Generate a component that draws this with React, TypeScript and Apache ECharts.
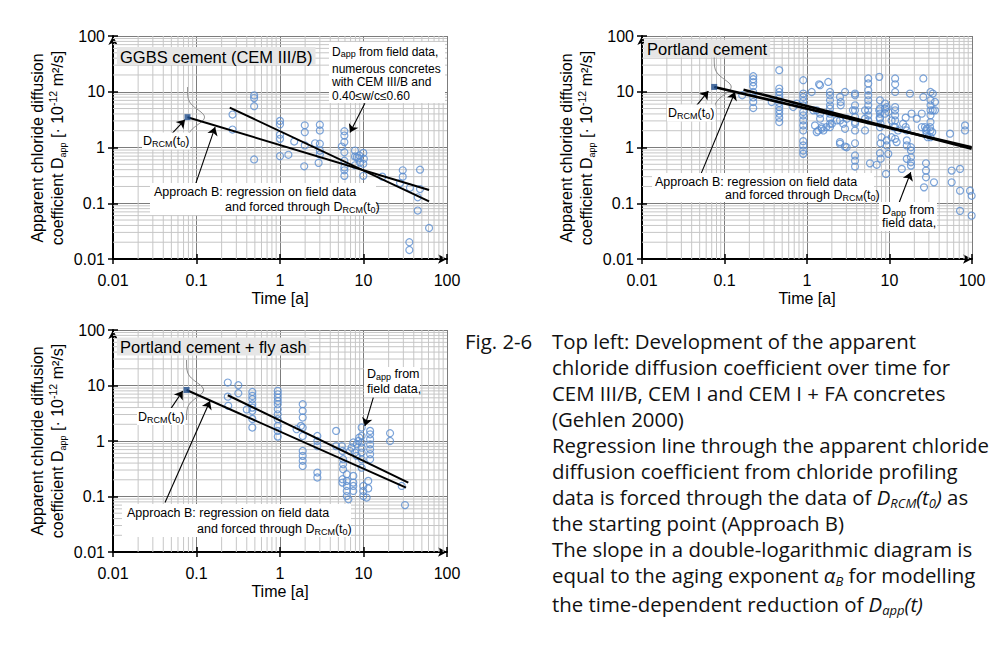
import React, { useEffect, useRef } from 'react';
import * as echarts from 'echarts';

const F = '"Liberation Sans", Arial, Helvetica, sans-serif';
const CAP_F = '"Open Sans", Lato, sans-serif';

const tickLabels = ['0.01', '0.1', '1', '10', '100'];
const minorTicks = [
  0.02, 0.03, 0.04, 0.05, 0.06, 0.07, 0.08, 0.09,
  0.2, 0.3, 0.4, 0.5, 0.6, 0.7, 0.8, 0.9,
  2, 3, 4, 5, 6, 7, 8, 9,
  20, 30, 40, 50, 60, 70, 80, 90,
];

// ---------- Panel 1: GGBS cement (CEM III/B) ----------
const ggbsField: number[][] = [
  [0.27, 3.9], [0.27, 2.1], [0.49, 8.6], [0.49, 7.7], [0.49, 5.5], [0.49, 0.61],
  [1.0, 3.0], [1.0, 2.6], [1.0, 1.7], [1.0, 1.43], [1.0, 0.7],
  [1.26, 0.74], [1.48, 1.28], [1.98, 2.5], [1.98, 1.88], [1.98, 1.09], [1.95, 0.46],
  [2.63, 1.19], [3.0, 2.56], [3.0, 2.02], [3.0, 1.17], [3.0, 0.88], [3.0, 0.75], [2.9, 0.53],
  [5.9, 1.96], [5.9, 1.64], [5.9, 1.25], [5.5, 1.04], [5.9, 0.82], [5.9, 0.58], [5.9, 0.44], [5.9, 0.39], [5.9, 0.31],
  [7.9, 0.88], [7.9, 0.69], [7.9, 0.48], [8.3, 0.67], [8.7, 0.64], [8.9, 0.72], [9.1, 0.54], [9.95, 0.8], [10.1, 0.63],
  [9.95, 0.51], [9.95, 0.31],
  [16.8, 0.3], [29.5, 0.39], [29.5, 0.3], [27.4, 0.23], [36, 0.19], [47.5, 0.4], [47.5, 0.18],
  [44.6, 0.128], [44.6, 0.074], [61, 0.036], [35.4, 0.02], [35.4, 0.0145],
];
const ggbsRcm: number[][] = [[0.078, 3.5]];
const ggbsForced: number[][] = [[0.078, 3.5], [61, 0.173]];
const ggbsFit: number[][] = [[0.25, 5.2], [61, 0.108]];
const ggbsArrows: number[][][] = [
  [[10.4, 6.19], [6.89, 1.86]],
  [[0.0505, 1.76], [0.0728, 3.15]],
  [[0.096, 0.207], [0.167, 2.32]],
];

// ---------- Panel 2: Portland cement ----------
const pcField: number[][] = [
  [0.164, 8.65],
  [0.223, 19.0], [0.223, 16.8], [0.223, 14.8], [0.223, 12.6], [0.223, 9.9], [0.223, 7.9], [0.223, 6.55], [0.223, 5.1],
  [0.373, 6.55],
  [0.461, 24.4], [0.461, 11.4], [0.461, 9.9], [0.461, 8.65], [0.461, 7.54], [0.461, 6.28], [0.461, 5.32], [0.461, 4.64],
  [0.461, 4.05], [0.461, 3.43], [0.461, 2.86],
  [0.68, 5.32], [0.75, 6.13],
  [0.9, 16.1], [0.9, 9.28], [0.9, 8.06], [0.9, 6.83], [0.9, 5.71], [0.9, 4.33], [0.9, 3.77], [0.9, 3.06], [0.9, 2.49],
  [0.9, 2.02], [0.9, 1.3], [0.9, 1.09], [0.9, 0.88], [0.9, 0.77],
  [1.14, 9.9], [1.19, 4.64], [1.4, 13.6], [1.44, 13.1], [1.31, 4.64], [1.44, 4.05], [1.44, 3.29], [1.51, 2.32], [1.31, 1.89],
  [1.58, 2.02], [1.25, 2.49], [1.37, 2.02], [1.51, 2.17], [1.72, 2.32], [2.0, 2.67],
  [1.81, 15.0],
  [1.9, 9.9], [1.9, 8.65], [1.9, 7.03], [1.9, 5.71], [1.9, 4.98], [1.9, 4.05], [1.9, 3.29], [1.9, 2.67], [1.9, 2.32],
  [2.29, 3.06], [2.51, 3.06], [2.89, 2.17], [3.03, 3.29], [2.51, 1.25], [2.89, 1.04],
  [2.51, 8.06], [2.56, 6.55], [2.56, 5.71], [2.51, 1.17], [2.89, 9.9], [3.03, 1.01], [2.75, 2.67],
  [3.82, 9.28], [3.82, 8.65], [3.82, 5.71], [3.82, 4.64], [3.6, 4.64], [3.82, 3.52], [3.82, 2.86], [3.82, 2.67], [3.82, 2.02],
  [3.82, 1.19], [3.82, 0.72], [3.82, 0.58], [3.82, 0.455],
  [5.05, 4.64], [5.05, 3.29], [5.05, 2.02],
  [5.53, 17.3], [5.53, 14.1], [5.53, 10.6], [5.53, 8.65], [5.53, 7.03], [5.53, 5.71], [5.53, 4.64], [5.53, 3.77], [5.53, 3.06],
  [5.8, 0.52], [7.0, 0.49],
  [7.52, 18.5],
  [7.5, 4.64], [7.6, 3.43], [7.8, 2.67], [8.0, 1.53], [7.8, 1.19],
  [7.67, 7.03], [7.67, 4.98], [7.67, 4.05], [7.67, 3.29], [7.67, 2.32], [7.67, 0.79], [7.82, 0.63],
  [8.82, 6.13], [8.82, 4.98], [8.82, 4.05],
  [9.25, 5.32], [9.67, 4.33], [10.6, 3.06], [11.7, 2.32], [12.7, 2.02], [14.6, 2.67],
  [9.25, 1.34], [9.25, 1.09], [9.07, 0.336], [9.67, 0.77],
  [11.7, 17.3], [11.7, 13.6], [11.7, 9.91], [11.7, 5.32], [11.7, 4.64], [11.7, 3.77], [11.7, 3.06], [11.3, 2.32],
  [10.6, 1.53], [11.7, 1.43], [12.2, 1.25],
  [14.1, 0.413],
  [15.7, 3.43], [15.7, 2.32],
  [16.2, 2.02], [16.2, 1.34], [16.2, 1.09], [16.2, 0.626],
  [17.7, 9.28], [18.5, 4.05], [21.4, 3.29], [24.6, 2.32], [28.2, 2.17], [31, 2.32], [33, 1.89],
  [18.2, 1.01], [18.2, 0.883], [18.2, 0.668], [18.2, 0.543], [18.2, 0.474],
  [25.7, 17.3], [25.7, 8.06], [24.6, 4.05],
  [26.9, 2.32], [27.7, 2.02], [28.2, 1.77], [29.0, 1.53],
  [26.2, 0.193], [27.7, 0.521], [27.7, 0.385], [27.7, 0.292],
  [31.4, 9.91], [31.4, 7.03], [31.4, 5.71], [31.4, 4.64], [31.4, 3.77], [31.4, 2.86], [31.4, 2.02], [31.4, 1.53],
  [33.5, 9.28], [33.5, 4.64],
  [34.6, 0.237], [35.6, 6.55], [35.6, 4.64],
  [54.1, 1.77], [56.7, 0.385], [56.7, 0.237],
  [71.6, 0.413], [71.6, 0.168], [71.6, 0.073],
  [82.3, 2.49], [82.3, 2.02],
  [94.6, 0.168], [99, 0.136], [99, 0.06],
];
const pcRcm: number[][] = [[0.075, 12.2]];
const pcForced: number[][] = [[0.075, 12.2], [99, 1.01]];
const pcFit: number[][] = [[0.17, 10.9], [99, 0.95]];
const pcArrows: number[][][] = [
  [[0.046, 5.71], [0.0637, 10.3]],
  [[0.0519, 0.336], [0.134, 9.92]],
  [[13.1, 0.103], [18.1, 0.359]],
];

// ---------- Panel 3: Portland cement + fly ash ----------
const faField: number[][] = [
  [0.237, 11.3], [0.237, 6.3], [0.24, 4.3], [0.317, 10.1], [0.317, 7.25], [0.4, 3.7],
  [0.466, 7.65], [0.466, 6.5], [0.466, 5.65], [0.466, 4.6], [0.466, 4.0], [0.466, 3.5], [0.466, 2.5], [0.466, 1.75],
  [0.94, 8.0], [0.94, 6.95], [0.94, 6.07], [0.94, 5.27], [0.94, 4.6], [0.94, 3.73], [0.94, 3.03], [0.94, 2.47],
  [0.94, 1.87], [0.94, 1.52], [0.94, 1.2],
  [1.58, 1.63], [1.78, 1.87],
  [1.87, 4.6], [1.87, 3.48], [1.87, 2.65], [1.87, 1.75], [1.87, 1.23], [1.87, 0.66], [1.87, 0.54], [1.87, 0.44], [1.87, 0.355],
  [2.8, 1.23], [2.8, 1.0], [2.8, 0.81], [2.8, 0.27], [2.8, 0.22],
  [4.7, 1.52], [4.7, 0.81], [5.5, 0.81], [5.6, 0.66], [5.7, 0.47], [5.7, 0.38], [5.7, 0.31], [5.6, 0.205], [5.6, 0.178],
  [6.3, 0.252], [6.3, 0.191], [6.3, 0.155], [6.3, 0.126], [6.3, 0.102], [6.6, 0.089],
  [6.9, 0.66], [7.2, 0.76], [7.55, 0.94], [7.9, 0.62], [8.3, 0.54], [8.3, 0.87], [8.7, 1.0], [8.9, 1.15],
  [7.55, 0.235], [7.55, 0.178], [7.55, 0.155], [7.55, 0.126],
  [9.5, 1.75], [9.5, 1.23], [9.5, 0.94], [9.5, 0.76], [9.5, 0.62], [9.5, 0.47], [9.5, 0.33],
  [9.95, 0.155], [9.95, 0.126], [9.95, 0.102],
  [11.4, 0.191], [11.4, 0.14], [10.9, 0.0957],
  [12.0, 1.52], [12.0, 1.32], [12.0, 1.08], [12.0, 0.87], [12.0, 0.71], [12.0, 0.58], [12.0, 0.47],
  [20.8, 1.38], [20.8, 1.0], [28.7, 0.155], [31.4, 0.07],
];
const faRcm: number[][] = [[0.076, 8.3]];
const faForced: number[][] = [[0.076, 8.3], [32.3, 0.145]];
const faFit: number[][] = [[0.237, 6.67], [34.4, 0.178]];
const faArrows: number[][][] = [
  [[13.1, 6.07], [10.4, 1.87]],
  [[0.0482, 3.63], [0.0684, 7.98]],
  [[0.042, 0.0778], [0.145, 5.27]],
];

const panels = [
  { field: ggbsField, rcm: ggbsRcm, forced: ggbsForced, fit: ggbsFit, arrows: ggbsArrows, lw: 2 },
  { field: pcField, rcm: pcRcm, forced: pcForced, fit: pcFit, arrows: pcArrows, lw: 2.6 },
  { field: faField, rcm: faRcm, forced: faForced, fit: faFit, arrows: faArrows, lw: 2 },
];

const gridBoxes = [
  { left: 113, top: 36, width: 334, height: 223 },
  { left: 642, top: 36, width: 330, height: 223 },
  { left: 113, top: 330, width: 334, height: 222 },
];

const fmt = (v: number) => tickLabels[Math.round(Math.log10(v)) + 2] ?? '';

const RICH: any = {
  sub: { fontSize: 9, fontFamily: F, fill: '#000', verticalAlign: 'bottom', lineHeight: 9 },
  sup: { fontSize: 10.5, fontFamily: F, fill: '#000', verticalAlign: 'top', lineHeight: 9 },
};
const CAP_SIZE = 20.4;
const CAP_LH = 24;
const RICH_CAP: any = {
  n: { fontSize: CAP_SIZE, fontFamily: CAP_F, fill: '#111', lineHeight: CAP_LH, verticalAlign: 'middle' },
  i: { fontSize: CAP_SIZE, fontFamily: CAP_F, fontStyle: 'italic', fill: '#111', lineHeight: CAP_LH, verticalAlign: 'middle' },
  is: { fontSize: 13, fontFamily: CAP_F, fontStyle: 'italic', fill: '#111', verticalAlign: 'bottom', lineHeight: 20 },
};

function txt(x: number, y: number, text: string, extra: any = {}) {
  return {
    type: 'text', x, y, z: 100,
    style: {
      text, fontFamily: F, fontSize: 12.5, fill: '#000', lineHeight: 15,
      align: 'left', verticalAlign: 'middle', rich: RICH, ...extra,
    },
  };
}
function box(x: number, y: number, w: number, h: number, fill = '#fff') {
  return { type: 'rect', z: 99, shape: { x, y, width: w, height: h }, style: { fill } };
}

const captionLines = [
  'Top left: Development of the apparent',
  'chloride diffusion coefficient over time for',
  'CEM III/B, CEM I and CEM I + FA concretes',
  '(Gehlen 2000)',
  'Regression line through the apparent chloride',
  'diffusion coefficient from chloride profiling',
  '{n|data is forced through the data of }{i|D}{is|RCM}{i|(t}{is|0}{i|)}{n| as}',
  'the starting point (Approach B)',
  'The slope in a double-logarithmic diagram is',
  '{n|equal to the aging exponent }{i|α}{is|B}{n| for modelling}',
  '{n|the time-dependent reduction of }{i|D}{is|app}{i|(t)}',
];

const yName = 'Apparent chloride diffusion\ncoefficient D{sub|app} [· 10{sup|-12} m²/s]';

export default function App() {
  const ref = useRef<HTMLDivElement>(null);
  useEffect(() => {
    if (!ref.current) return;
    const chart = echarts.init(ref.current, undefined, { renderer: 'svg' });

    const xAxes: any[] = [];
    const yAxes: any[] = [];
    gridBoxes.forEach((_, gi) => {
      xAxes.push({
        type: 'log', logBase: 10, gridIndex: gi, min: 0.01, max: 100, position: 'bottom',
        axisLine: { show: true, onZero: false, lineStyle: { color: '#000', width: 2 }, symbol: ['none', 'arrow'], symbolSize: [7, 9] },
        axisTick: { show: true, length: 5, lineStyle: { color: '#000', width: 1.5 } },
        axisLabel: { color: '#000', fontSize: 16, fontFamily: F, margin: 13, formatter: fmt },
        splitLine: { show: true, lineStyle: { color: '#7c7c7c', width: 1 } },
        name: 'Time [a]', nameLocation: 'middle', nameGap: 31,
        nameTextStyle: { color: '#000', fontSize: 16, fontFamily: F },
      });
      yAxes.push({
        type: 'log', logBase: 10, gridIndex: gi, min: 0.01, max: 100, position: 'left',
        axisLine: { show: true, onZero: false, lineStyle: { color: '#000', width: 2 }, symbol: ['none', 'arrow'], symbolSize: [7, 9] },
        axisTick: { show: true, length: 5, lineStyle: { color: '#000', width: 1.5 } },
        axisLabel: { color: '#000', fontSize: 16, fontFamily: F, margin: 8, formatter: fmt },
        splitLine: { show: true, lineStyle: { color: '#7c7c7c', width: 1 } },
      });
    });
    gridBoxes.forEach((_, gi) => {
      xAxes.push({
        type: 'log', logBase: 10, gridIndex: gi, min: 0.01, max: 100, position: 'bottom',
        axisLine: { show: false, onZero: false },
        axisTick: { show: true, inside: true, length: 5, lineStyle: { color: '#000', width: 1.5 } },
        axisLabel: { show: false }, splitLine: { show: false },
      });
      yAxes.push({
        type: 'log', logBase: 10, gridIndex: gi, min: 0.01, max: 100, position: 'left',
        axisLine: { show: false, onZero: false },
        axisTick: { show: true, inside: true, length: 5, lineStyle: { color: '#000', width: 1.5 } },
        axisLabel: { show: false }, splitLine: { show: false },
      });
    });

    const series: any[] = [];
    panels.forEach((p, gi) => {
      const ax = { xAxisIndex: gi, yAxisIndex: gi };
      series.push({
        type: 'custom', ...ax, silent: true, z: 1,
        data: minorTicks.map((v) => [v, v]),
        renderItem: (_params: any, api: any) => {
          const v = api.value(0);
          const a = api.coord([v, 0.01]);
          const b = api.coord([v, 100]);
          const c = api.coord([0.01, v]);
          const d = api.coord([100, v]);
          return {
            type: 'group',
            children: [
              { type: 'line', shape: { x1: a[0], y1: a[1], x2: b[0], y2: b[1] }, style: { stroke: '#c6c6c6', lineWidth: 1 } },
              { type: 'line', shape: { x1: c[0], y1: c[1], x2: d[0], y2: d[1] }, style: { stroke: '#c6c6c6', lineWidth: 1 } },
            ],
          };
        },
      });
      series.push({
        type: 'scatter', ...ax, z: 3, silent: true, symbol: 'circle', symbolSize: 7,
        itemStyle: { color: 'rgba(255,255,255,0)', borderColor: '#5b8dcf', borderWidth: 1.2 },
        data: p.field,
      });
      series.push({
        type: 'custom', ...ax, silent: true, z: 4, data: p.rcm,
        renderItem: (_params: any, api: any) => {
          const c = api.coord([api.value(0), api.value(1)]);
          const pts: number[][] = [];
          for (let dy = -30; dy <= 30; dy += 1) {
            pts.push([c[0] + 17 * Math.exp(-(dy * dy) / (2 * 7.5 * 7.5)), c[1] + dy]);
          }
          return { type: 'polyline', shape: { points: pts }, style: { stroke: '#8a8a8a', lineWidth: 1, fill: 'none' } };
        },
      });
      series.push({
        type: 'line', ...ax, z: 5, silent: true, symbol: 'none', data: p.forced,
        lineStyle: { color: '#000', width: p.lw },
        markLine: {
          silent: true, symbol: ['none', 'arrow'], symbolSize: 8, animation: false,
          lineStyle: { color: '#000', width: 1.1, type: 'solid' },
          label: { show: false },
          data: p.arrows.map(([s, e]) => [{ coord: s }, { coord: e }]),
        },
      });
      series.push({
        type: 'line', ...ax, z: 5, silent: true, symbol: 'none', data: p.fit,
        lineStyle: { color: '#000', width: p.lw },
      });
      series.push({
        type: 'scatter', ...ax, z: 6, silent: true, symbol: 'rect', symbolSize: 6,
        itemStyle: { color: '#1f4e8c' }, data: p.rcm,
      });
    });

    const titleStyle = { fontSize: 16.5, backgroundColor: '#e6e6e6', padding: [2, 3, 1, 3] };
    const labelBg = { backgroundColor: '#fff', padding: [1, 1, 1, 1] };
    const capStyle = { fontFamily: CAP_F, fontSize: CAP_SIZE, fill: '#111', lineHeight: CAP_LH };
    const graphic: any[] = [
      // y axis names
      { ...txt(47, 148, yName, { fontSize: 16, lineHeight: 20, align: 'center' }), rotation: Math.PI / 2 },
      { ...txt(576, 148, yName, { fontSize: 16, lineHeight: 20, align: 'center' }), rotation: Math.PI / 2 },
      { ...txt(47, 441, yName, { fontSize: 16, lineHeight: 20, align: 'center' }), rotation: Math.PI / 2 },

      // panel 1
      txt(117, 56, 'GGBS cement (CEM III/B)', titleStyle),
      box(329, 42, 116, 61),
      txt(332, 52, 'D{sub|app} from field data,', { fontSize: 12, lineHeight: 13 }),
      txt(332, 68.5, 'numerous concretes', { fontSize: 12, lineHeight: 13 }),
      txt(332, 82, 'with CEM III/B and', { fontSize: 12, lineHeight: 13 }),
      txt(332, 95.5, '0.40≤w/c≤0.60', { fontSize: 12, lineHeight: 13 }),
      txt(142, 141, 'D{sub|RCM}(t{sub|0})', labelBg),
      box(150, 183, 226, 32),
      txt(154, 191.5, 'Approach B: regression on field data'),
      txt(225, 207, 'and forced through D{sub|RCM}(t{sub|0})'),

      // panel 2
      txt(644, 48.5, 'Portland cement', titleStyle),
      txt(667, 113, 'D{sub|RCM}(t{sub|0})', labelBg),
      box(652, 173, 222, 29),
      txt(655, 181.5, 'Approach B: regression on field data'),
      txt(725, 195, 'and forced through D{sub|RCM}(t{sub|0})'),
      box(879, 202, 58, 29),
      txt(882, 209.5, 'D{sub|app} from'),
      txt(882, 223, 'field data,'),

      // panel 3
      txt(117, 346.5, 'Portland cement + fly ash', titleStyle),
      box(364, 367, 56, 30),
      txt(367, 374, 'D{sub|app} from'),
      txt(367, 389, 'field data,'),
      txt(137, 416.5, 'D{sub|RCM}(t{sub|0})', labelBg),
      box(122, 504, 229, 33),
      txt(127, 513, 'Approach B: regression on field data'),
      txt(197, 528.5, 'and forced through D{sub|RCM}(t{sub|0})'),

      // caption
      txt(465, 341, 'Fig. 2-6', capStyle),
      ...captionLines.map((l, i) =>
        txt(552, 341 + i * 26 + (i === captionLines.length - 1 ? 3 : 0), l, { ...capStyle, rich: RICH_CAP })
      ),
    ];

    chart.setOption({
      animation: false,
      backgroundColor: '#fff',
      grid: gridBoxes.map((g) => ({ ...g, containLabel: false })),
      xAxis: xAxes,
      yAxis: yAxes,
      series,
      graphic: { elements: graphic },
    });
    return () => chart.dispose();
  }, []);
  return <div ref={ref} style={{ width: 994, height: 647, position: 'absolute', left: 0, top: 0 }} />;
}
